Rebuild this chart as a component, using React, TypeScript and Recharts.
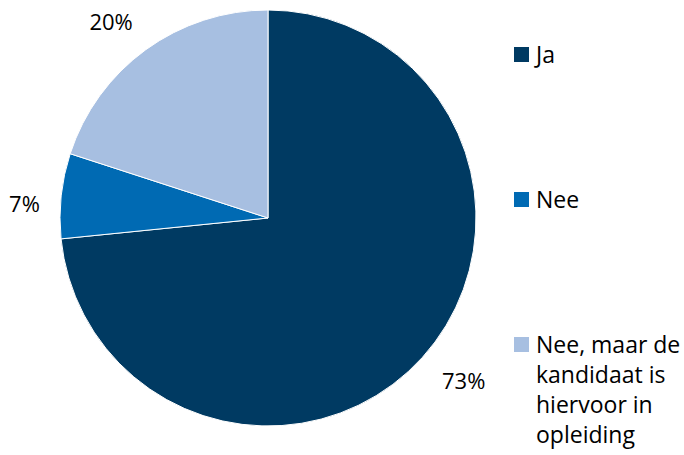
import { PieChart, Pie, Cell, Legend } from 'recharts';

const categories = ['Ja', 'Nee', 'Nee, maar de kandidaat is hiervoor in opleiding'];
const shares = [73.4, 6.6, 20.0];
const shareLabels = ['73%', '7%', '20%'];
const legendLines = [['Ja'], ['Nee'], ['Nee, maar de', 'kandidaat is', 'hiervoor in', 'opleiding']];
const colors = ['#003a62', '#006ab3', '#a7bfe1'];

const data = categories.map((name, i) => ({ name, value: shares[i], label: shareLabels[i] }));

const FONT = '"Open Sans", sans-serif';
const RADIAN = Math.PI / 180;
const labelGap = [46, 36, 44];

function renderLabel(props: any) {
  const { cx, cy, midAngle, outerRadius, index } = props;
  const r = outerRadius + labelGap[index];
  const a = midAngle + 2.5;
  const x = cx + r * Math.cos(-a * RADIAN);
  const y = cy + r * Math.sin(-a * RADIAN);
  return (
    <text x={x} y={y} textAnchor="middle" dominantBaseline="central" fill="#000" fontSize={22} fontFamily={FONT}>
      {shareLabels[index]}
    </text>
  );
}

function LegendBox() {
  const tops = [44, 189, 334];
  return (
    <div style={{ position: 'relative', width: 170, height: 455 }}>
      {legendLines.map((lines, i) => (
        <div key={i} style={{ position: 'absolute', left: 0, top: tops[i], display: 'flex', alignItems: 'flex-start' }}>
          <div style={{ width: 15, height: 15, background: colors[i], marginTop: 3, marginRight: 7 }} />
          <div style={{ fontFamily: FONT, fontSize: 23, lineHeight: '30px', color: '#000', marginTop: -5 }}>
            {lines.map((l, j) => (
              <div key={j}>{l}</div>
            ))}
          </div>
        </div>
      ))}
    </div>
  );
}

export default function App() {
  return (
    <div style={{ width: 684, height: 455, background: '#fff' }}>
      <style>{`body{margin:0}`}</style>
      <PieChart width={684} height={455} margin={{ top: 0, right: 0, bottom: 0, left: 0 }}>
        <Pie
          data={data}
          dataKey="value"
          nameKey="name"
          cx={268}
          cy={218}
          outerRadius={208}
          startAngle={90}
          endAngle={-270}
          stroke="#fff"
          strokeWidth={1}
          labelLine={false}
          label={renderLabel}
          isAnimationActive={false}
        >
          {data.map((d, i) => (
            <Cell key={d.name} fill={colors[i]} />
          ))}
        </Pie>
        <Legend
          layout="vertical"
          align="right"
          verticalAlign="top"
          wrapperStyle={{ left: 514, top: 0, width: 170 }}
          content={() => <LegendBox />}
        />
      </PieChart>
    </div>
  );
}
